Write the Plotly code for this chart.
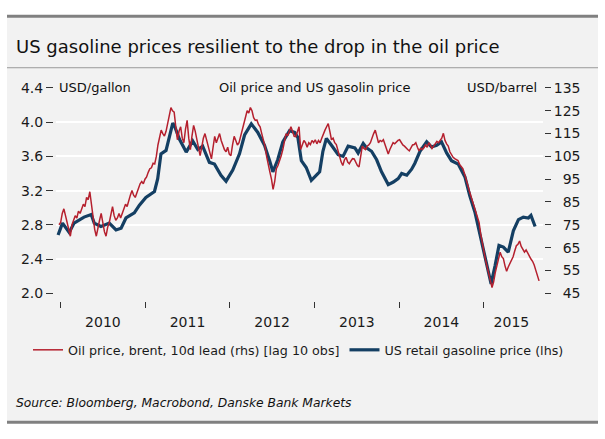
import plotly.graph_objects as go
import pandas as pd

# ---------------- data ----------------
# Oil price, Brent (rhs, USD/barrel), weekly from 2009-12-25
oil_start = "2009-12-25"
oil_values = [
    75, 76, 80, 82, 79, 76, 73, 70, 75, 77, 79, 78, 81, 80, 82, 84, 83, 87, 86, 89.5,
    84, 78, 73, 70, 74, 77, 80, 76, 72, 70, 74, 76, 80, 83, 79, 77, 78, 80, 78, 80,
    82, 84, 83, 86, 88, 90, 88, 87, 89, 91, 93, 94, 93,
    95, 96, 98, 99.6, 100, 102, 101.7, 105, 110, 114, 116.5, 115, 113.9, 116, 119, 122.3,
    126.4, 125, 124.4, 118, 112.3, 116, 118, 113, 111, 117, 120.8, 113, 108, 114, 118.6,
    116, 112, 108, 105.3, 109, 113, 115, 112, 110, 106, 103.9, 109, 113.8, 111, 113,
    115, 112, 110, 108, 107, 109, 106, 105.3, 110, 113.8, 112, 110, 111, 114, 117,
    119.4, 122, 125, 124, 126.4, 125, 122, 120.8, 121, 119, 118, 115, 112, 109.5, 105,
    101, 98.2, 95, 90.5, 94, 99.6, 101, 103, 105.3, 108, 112, 115, 114, 116, 118,
    116, 113.8,
    113.7, 116, 118, 108, 110, 112, 111, 109, 111, 110.2, 112, 111, 112.3, 110.5, 112,
    111, 113, 115, 116.5, 118, 119.4, 116, 112.3, 113, 111, 110.2, 108, 105, 102.5, 101,
    103.5, 104.6, 102.5, 101.8, 103, 104, 103.9, 102, 101, 100.4, 105, 109.5, 108.5, 108,
    109.5, 110, 111, 113.5, 115, 116.5, 113, 111, 112, 111.5, 112.3, 110, 108, 106, 108,
    109.5, 111, 110.5, 111.5, 112, 112.3, 111, 110, 109.5, 108.5, 108, 107.4, 109, 110,
    110.2,
    111, 109, 107.4, 108.5, 108, 108.8, 110, 109, 111, 110, 108.5, 109.5, 110.5, 111.6,
    111, 112.3, 113, 115.1, 112, 110.5, 109.5, 107, 105.5, 104.6, 104, 103.5, 103.2, 101.5,
    100.5, 99.6, 97.5, 95.4, 92.5, 89.8, 87.5, 85.5, 82.7, 80.5, 78.5, 76, 71, 66.5, 63,
    59.5, 56.5, 54, 50.5, 47.5, 50, 54, 57, 61, 63, 61, 60.2, 57, 54.6, 56.5, 58, 58.8,
    61, 63.5, 65.8, 66.5, 67.9, 65.5, 64.5, 63, 64, 62.5, 61.6, 60, 59, 57.4, 55, 53,
    50.4,
]

# US retail gasoline price (lhs, USD/gallon)
gas_dates = [
    "2009-12-21", "2010-01-09", "2010-02-07", "2010-02-28", "2010-04-12", "2010-05-04",
    "2010-05-13", "2010-05-26", "2010-06-24", "2010-07-30", "2010-08-28", "2010-09-19",
    "2010-10-10", "2010-11-15", "2010-12-07", "2011-01-04", "2011-02-10", "2011-02-24",
    "2011-03-10", "2011-04-01", "2011-04-30", "2011-05-07", "2011-05-29", "2011-06-27",
    "2011-07-25", "2011-08-16", "2011-09-06", "2011-10-05", "2011-10-27", "2011-11-24",
    "2011-12-16", "2012-01-14", "2012-02-12", "2012-03-05", "2012-04-03", "2012-05-01",
    "2012-05-30", "2012-06-21", "2012-07-05", "2012-07-26", "2012-08-17", "2012-09-15",
    "2012-10-07", "2012-10-21", "2012-11-05", "2012-11-26", "2012-12-18", "2013-01-09",
    "2013-01-23", "2013-02-06", "2013-02-21", "2013-03-15", "2013-04-13", "2013-05-04",
    "2013-05-26", "2013-06-24", "2013-07-08", "2013-07-30", "2013-08-13", "2013-09-04",
    "2013-09-26", "2013-10-17", "2013-11-15", "2013-12-07", "2013-12-28", "2014-01-12",
    "2014-02-03", "2014-02-24", "2014-03-10", "2014-04-01", "2014-04-30", "2014-05-21",
    "2014-06-12", "2014-07-03", "2014-07-25", "2014-08-15", "2014-09-13", "2014-10-12",
    "2014-11-02", "2014-11-24", "2014-12-16", "2015-01-07", "2015-02-02", "2015-02-19",
    "2015-03-08", "2015-03-27", "2015-04-17", "2015-05-09", "2015-05-31", "2015-06-21",
    "2015-07-13", "2015-07-24", "2015-08-11",
]
gas_values = [
    2.68, 2.82, 2.71, 2.82, 2.89, 2.91,
    2.92, 2.82, 2.78, 2.82, 2.74, 2.76,
    2.88, 2.94, 3.03, 3.12, 3.19, 3.34,
    3.63, 3.67, 3.99, 3.96, 3.80, 3.65,
    3.78, 3.68, 3.72, 3.53, 3.51, 3.38,
    3.31, 3.44, 3.63, 3.85, 3.98, 3.88,
    3.73, 3.55, 3.42, 3.56, 3.77, 3.90,
    3.88, 3.82, 3.55, 3.47, 3.32, 3.38,
    3.42, 3.66, 3.81, 3.73, 3.62, 3.60,
    3.72, 3.70, 3.64, 3.75, 3.70, 3.66,
    3.56, 3.42, 3.27, 3.30, 3.34, 3.40,
    3.38, 3.45, 3.52, 3.66, 3.77, 3.71,
    3.73, 3.77, 3.64, 3.55, 3.51, 3.36,
    3.14, 2.95, 2.69, 2.39, 2.11, 2.32,
    2.56, 2.54, 2.48, 2.73, 2.86, 2.89,
    2.88, 2.91, 2.78,
]

years = ["2010", "2011", "2012", "2013", "2014", "2015"]
lhs_ticks = [2.0, 2.4, 2.8, 3.2, 3.6, 4.0, 4.4]
rhs_ticks = [45, 55, 65, 75, 85, 95, 105, 115, 125, 135]

title = "US gasoline prices resilient to the drop in the oil price"
source = "Source: Bloomberg, Macrobond, Danske Bank Markets"
oil_name = "Oil price, brent, 10d lead (rhs) [lag 10 obs]"
gas_name = "US retail gasoline price (lhs)"

# ---------------- figure ----------------
W, H = 605, 439
FONT = "DejaVu Sans"
RED = "#b5202e"
NAVY = "#143f63"
BG = "#f2f2f2"
TXT = "#1a1a1a"


def px(x):
    return x / W


def py(y):
    return 1 - y / H


oil_dates = pd.date_range(oil_start, periods=len(oil_values), freq="7D")

# year labels centred on the visible part of each year
year_starts = [pd.Timestamp(f"{y}-01-01") for y in years]
last_date = max(oil_dates[-1], pd.Timestamp(gas_dates[-1]))
label_pos = []
for i, ys in enumerate(year_starts):
    end = year_starts[i + 1] if i + 1 < len(year_starts) else last_date
    end = min(end, last_date)
    label_pos.append(ys + (end - ys) / 2)

xrange_ = ["2009-12-12", "2015-09-14"]
xdom = [px(56), px(543)]

fig = go.Figure()
fig.add_trace(go.Scatter(
    x=oil_dates, y=oil_values, name=oil_name, mode="lines",
    line=dict(color=RED, width=1.5), yaxis="y2", xaxis="x",
))
fig.add_trace(go.Scatter(
    x=pd.to_datetime(gas_dates), y=gas_values, name=gas_name, mode="lines",
    line=dict(color=NAVY, width=3.2), yaxis="y", xaxis="x",
))

fig.update_layout(
    width=W, height=H,
    margin=dict(l=0, r=0, t=0, b=0),
    paper_bgcolor="white",
    plot_bgcolor=BG,
    font=dict(family=FONT, color=TXT, size=13),
    showlegend=True,
    legend=dict(
        orientation="h", x=px(28), y=py(355), xanchor="left", yanchor="middle",
        font=dict(size=12.7, color=TXT), bgcolor="rgba(0,0,0,0)",
        itemwidth=30, tracegroupgap=0,
    ),
    xaxis=dict(
        type="date", domain=xdom, range=xrange_, anchor="free",
        position=py(304), tickvals=label_pos, ticktext=years,
        ticks="outside", ticklen=8, tickcolor="rgba(0,0,0,0)",
        tickfont=dict(size=14, color=TXT),
        minor=dict(ticks="outside", ticklen=6, tickcolor="#333333", tickwidth=1,
                   tickvals=year_starts, showgrid=False),
        showgrid=False, zeroline=False, showline=False,
    ),
    yaxis=dict(
        domain=[py(296), py(83)], range=[2.0, 4.4], anchor="free", position=px(53),
        tickvals=lhs_ticks, tickformat=".1f",
        ticks="outside", ticklen=7, tickcolor="#333333", tickwidth=1,
        tickfont=dict(size=14, color=TXT),
        showgrid=True, gridcolor="white", gridwidth=2,
        zeroline=False, showline=False,
    ),
    yaxis2=dict(
        domain=[py(296), py(83)], range=[45, 135], overlaying="y", side="right",
        anchor="free", position=px(544),
        tickvals=rhs_ticks, ticktext=[f"{v:\u2007>3}" for v in rhs_ticks],
        ticks="outside", ticklen=6, tickcolor="#333333", tickwidth=1,
        tickfont=dict(size=14, color=TXT),
        showgrid=False, zeroline=False, showline=False,
    ),
)

shapes = [
    dict(type="rect", xref="paper", yref="paper", x0=px(7), x1=px(598), y0=py(429), y1=py(9),
         fillcolor=BG, line=dict(width=0), layer="below"),
    dict(type="line", xref="paper", yref="paper", x0=px(7), x1=px(598), y0=py(8.5), y1=py(8.5),
         line=dict(color="#808080", width=3)),
    dict(type="line", xref="paper", yref="paper", x0=px(7), x1=px(598), y0=py(62), y1=py(62),
         line=dict(color="#9a9a9a", width=1)),
    dict(type="line", xref="paper", yref="paper", x0=px(7), x1=px(598), y0=py(430), y1=py(430),
         line=dict(color="#808080", width=3)),
]
fig.update_layout(shapes=shapes)

annotations = [
    dict(text=title, x=px(14), y=py(40), xanchor="left", yanchor="middle",
         font=dict(size=18, color="#111111")),
    dict(text="USD/gallon", x=px(57), y=py(83), xanchor="left", yanchor="middle",
         font=dict(size=13, color="#111111")),
    dict(text="Oil price and US gasolin price", x=px(314), y=py(83), xanchor="center",
         yanchor="middle", font=dict(size=13, color="#111111")),
    dict(text="USD/barrel", x=px(539), y=py(83), xanchor="right", yanchor="middle",
         font=dict(size=13, color="#111111")),
    dict(text="<i>" + source + "</i>", x=px(14), y=py(410), xanchor="left", yanchor="middle",
         font=dict(size=12.3, color="#111111")),
]
for a in annotations:
    a.update(xref="paper", yref="paper", showarrow=False)
fig.update_layout(annotations=annotations)

fig.write_html("out.html")
